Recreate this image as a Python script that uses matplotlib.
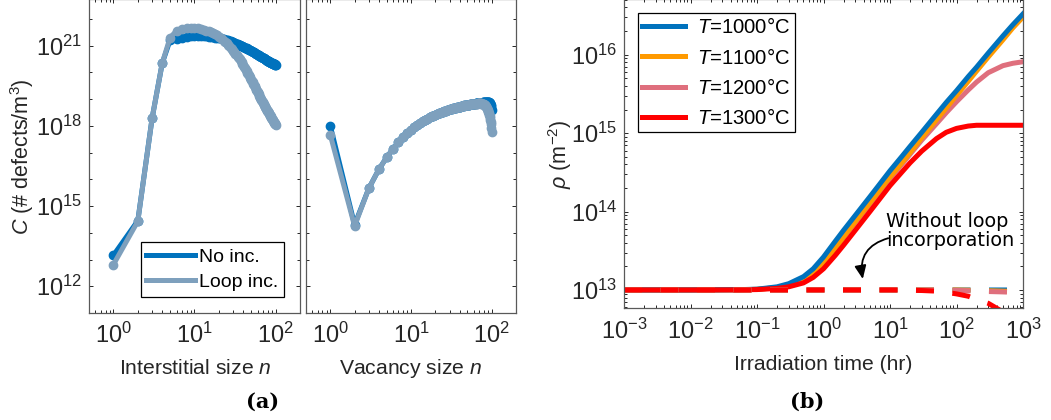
import matplotlib
matplotlib.use('Agg')
import matplotlib.pyplot as plt
import numpy as np
from matplotlib.ticker import LogLocator, NullFormatter

plt.rcParams['font.family'] = ['Liberation Sans', 'DejaVu Sans']
plt.rcParams['mathtext.fontset'] = 'custom'
plt.rcParams['mathtext.rm'] = 'Liberation Sans'
plt.rcParams['mathtext.it'] = 'Liberation Sans:italic'
plt.rcParams['mathtext.bf'] = 'Liberation Sans:bold'

# (a) cluster size distributions, log10 of C (# defects/m^3), for n = 1..100
SIZES = np.arange(1, 101)
INTER_NOINC = [13.16, 14.45, 18.28, 20.34, 21.20, 21.25, 21.29, 21.32, 21.34, 21.35,
               21.35, 21.35, 21.35, 21.34, 21.33, 21.32, 21.31, 21.30, 21.29, 21.28,
               21.27, 21.25, 21.24, 21.22, 21.21, 21.19, 21.18, 21.16, 21.14, 21.12,
               21.10, 21.08, 21.06, 21.04, 21.03, 21.01, 21.00, 20.98, 20.97, 20.95,
               20.94, 20.92, 20.91, 20.89, 20.88, 20.86, 20.85, 20.83, 20.82, 20.80,
               20.79, 20.77, 20.76, 20.74, 20.73, 20.72, 20.70, 20.69, 20.67, 20.66,
               20.65, 20.64, 20.62, 20.61, 20.60, 20.59, 20.57, 20.56, 20.55, 20.54,
               20.53, 20.52, 20.50, 20.49, 20.48, 20.47, 20.46, 20.45, 20.44, 20.43,
               20.42, 20.41, 20.40, 20.39, 20.38, 20.37, 20.36, 20.35, 20.35, 20.34,
               20.33, 20.33, 20.32, 20.31, 20.31, 20.30, 20.30, 20.29, 20.29, 20.28]
INTER_LOOP = [12.81, 14.43, 18.28, 20.34, 21.30, 21.55, 21.62, 21.65, 21.66, 21.66,
              21.64, 21.62, 21.59, 21.56, 21.53, 21.50, 21.46, 21.42, 21.38, 21.33,
              21.28, 21.23, 21.18, 21.13, 21.08, 21.03, 20.98, 20.92, 20.87, 20.81,
              20.76, 20.70, 20.65, 20.59, 20.54, 20.48, 20.43, 20.37, 20.32, 20.26,
              20.21, 20.15, 20.10, 20.04, 19.99, 19.93, 19.88, 19.82, 19.77, 19.71,
              19.66, 19.62, 19.57, 19.53, 19.48, 19.44, 19.39, 19.35, 19.30, 19.26,
              19.22, 19.18, 19.13, 19.09, 19.05, 19.01, 18.97, 18.93, 18.90, 18.86,
              18.82, 18.79, 18.75, 18.72, 18.69, 18.66, 18.63, 18.60, 18.57, 18.54,
              18.51, 18.48, 18.46, 18.43, 18.40, 18.37, 18.35, 18.32, 18.30, 18.27,
              18.25, 18.22, 18.20, 18.17, 18.15, 18.12, 18.10, 18.08, 18.05, 18.03]
VAC_NOINC = [18.00, 14.30, 15.66, 16.37, 16.82, 17.14, 17.38, 17.57, 17.72, 17.85,
             17.95, 18.04, 18.11, 18.17, 18.22, 18.27, 18.31, 18.35, 18.38, 18.41,
             18.44, 18.46, 18.49, 18.51, 18.53, 18.55, 18.57, 18.58, 18.60, 18.61,
             18.63, 18.64, 18.65, 18.66, 18.67, 18.68, 18.69, 18.70, 18.71, 18.72,
             18.72, 18.73, 18.74, 18.75, 18.75, 18.76, 18.76, 18.77, 18.77, 18.78,
             18.78, 18.79, 18.79, 18.80, 18.80, 18.81, 18.81, 18.82, 18.82, 18.83,
             18.83, 18.83, 18.84, 18.84, 18.84, 18.85, 18.85, 18.85, 18.85, 18.86,
             18.86, 18.86, 18.86, 18.87, 18.87, 18.87, 18.87, 18.88, 18.88, 18.88,
             18.88, 18.88, 18.89, 18.89, 18.89, 18.89, 18.90, 18.90, 18.90, 18.90,
             18.90, 18.89, 18.88, 18.87, 18.85, 18.82, 18.78, 18.74, 18.68, 18.60]
VAC_LOOP = [17.66, 14.25, 15.66, 16.37, 16.82, 17.14, 17.38, 17.57, 17.72, 17.85,
            17.95, 18.04, 18.11, 18.17, 18.22, 18.27, 18.31, 18.35, 18.38, 18.41,
            18.44, 18.46, 18.49, 18.51, 18.53, 18.55, 18.57, 18.58, 18.60, 18.61,
            18.63, 18.64, 18.65, 18.66, 18.67, 18.68, 18.69, 18.70, 18.71, 18.72,
            18.72, 18.73, 18.74, 18.75, 18.75, 18.76, 18.76, 18.77, 18.77, 18.78,
            18.78, 18.79, 18.79, 18.80, 18.80, 18.80, 18.81, 18.81, 18.82, 18.82,
            18.82, 18.82, 18.83, 18.83, 18.83, 18.83, 18.84, 18.84, 18.84, 18.84,
            18.84, 18.84, 18.84, 18.83, 18.83, 18.83, 18.82, 18.82, 18.81, 18.80,
            18.79, 18.78, 18.76, 18.74, 18.72, 18.69, 18.66, 18.63, 18.59, 18.55,
            18.51, 18.46, 18.41, 18.36, 18.30, 18.23, 18.15, 18.05, 17.93, 17.78]

# (b) dislocation density vs irradiation time, log10 of rho (m^-2)
TIMES = [1e-3, 1e-2, 0.05, 0.1, 0.2, 0.3, 0.5, 0.7, 1, 1.5, 2, 3, 5, 7, 10,
         15, 20, 30, 50, 70, 100, 150, 200, 300, 500, 700, 1000]
TEMPS = ['1000', '1100', '1200', '1300']
RHO_1000 = [13.0, 13.0, 13.003, 13.01, 13.04, 13.08, 13.17, 13.27, 13.42, 13.62, 13.76,
            13.95, 14.19, 14.35, 14.52, 14.70, 14.83, 15.01, 15.24, 15.39, 15.54,
            15.72, 15.84, 16.02, 16.24, 16.38, 16.52]
RHO_1100 = [13.0, 13.0, 13.002, 13.008, 13.03, 13.06, 13.13, 13.21, 13.34, 13.53, 13.67,
            13.87, 14.11, 14.27, 14.44, 14.62, 14.75, 14.94, 15.17, 15.32, 15.48,
            15.66, 15.79, 15.97, 16.19, 16.34, 16.48]
RHO_1200 = [13.0, 13.0, 13.002, 13.008, 13.03, 13.06, 13.13, 13.21, 13.34, 13.53, 13.67,
            13.86, 14.09, 14.25, 14.42, 14.60, 14.73, 14.91, 15.12, 15.26, 15.40,
            15.55, 15.65, 15.77, 15.86, 15.89, 15.91]
RHO_1300 = [13.0, 13.0, 13.001, 13.005, 13.02, 13.04, 13.09, 13.16, 13.27, 13.44, 13.57,
            13.76, 14.00, 14.16, 14.33, 14.50, 14.62, 14.77, 14.93, 15.01, 15.06,
            15.09, 15.10, 15.10, 15.10, 15.10, 15.10]
# without loop incorporation (dashed)
NOLOOP_1000 = [13.0, 13.0, 13.0, 13.0, 13.0, 13.0, 13.0, 13.0, 13.0, 13.0, 13.0,
               13.0, 13.0, 13.0, 13.0, 13.0, 13.0, 13.0, 13.0, 13.0, 13.0,
               13.0, 13.0, 13.0, 13.0, 13.0, 12.998]
NOLOOP_1100 = [13.0, 13.0, 13.0, 13.0, 13.0, 13.0, 13.0, 13.0, 13.0, 13.0, 13.0,
               13.0, 13.0, 13.0, 13.0, 13.0, 13.0, 13.0, 13.0, 13.0, 13.0,
               12.997, 12.995, 12.99, 12.985, 12.98, 12.98]
NOLOOP_1200 = [13.0, 13.0, 13.0, 13.0, 13.0, 13.0, 13.0, 13.0, 13.0, 13.0, 13.0,
               13.0, 13.0, 13.0, 13.0, 13.0, 13.0, 13.0, 13.0, 12.998, 12.995,
               12.99, 12.985, 12.98, 12.975, 12.97, 12.97]
NOLOOP_1300 = [13.0, 13.0, 13.0, 13.0, 13.0, 13.0, 13.0, 13.0, 13.0, 13.0, 13.0,
               13.0, 13.0, 13.0, 13.0, 12.999, 12.997, 12.993, 12.985, 12.97, 12.95,
               12.92, 12.88, 12.83, 12.72, 12.62, 12.45]

BLUE = '#0072BD'
GRAY = '#7EA0BD'
COLORS = ['#0072BD', '#FF9A00', '#DF6F7D', '#FF0000']
AXC = '#262626'

W, H = 1051, 420
fig = plt.figure(figsize=(W / 100, H / 100), dpi=100)


def px_axes(left, right, bottom, top=-1):
    return fig.add_axes([left / W, 1 - bottom / H, (right - left) / W, (bottom - top) / H])


def style(ax):
    for s in ax.spines.values():
        s.set_color('0.35')
        s.set_linewidth(0.9)
    ax.tick_params(which='both', direction='in', top=True, right=True,
                   color=AXC, labelcolor=AXC, width=0.7)
    ax.tick_params(which='major', length=3.2, labelsize=17)
    ax.tick_params(which='minor', length=2.0)


ax1 = px_axes(89, 300, 313)
ax2 = px_axes(306, 516, 313)
ax3 = px_axes(624, 1023, 308)

for ax, noinc, loop in [(ax1, INTER_NOINC, INTER_LOOP), (ax2, VAC_NOINC, VAC_LOOP)]:
    ax.plot(SIZES, 10 ** np.array(noinc), '-o', color=BLUE, lw=3.6, ms=6, label='No inc.')
    ax.plot(SIZES, 10 ** np.array(loop), '-o', color=GRAY, lw=3.6, ms=6, label='Loop inc.')
    ax.set_xscale('log')
    ax.set_yscale('log')
    ax.set_xlim(0.5, 200)
    ax.set_ylim(1e11, 10 ** 22.74)
    ax.set_yticks([1e12, 1e15, 1e18, 1e21])
    ax.yaxis.set_minor_locator(LogLocator(base=10, subs=[1.0], numticks=30))
    ax.yaxis.set_minor_formatter(NullFormatter())
    ax.xaxis.set_minor_locator(LogLocator(base=10, subs=np.arange(2, 10), numticks=30))
    ax.xaxis.set_minor_formatter(NullFormatter())
    style(ax)
    ax.tick_params(axis='x', which='major', pad=7)
    ax.tick_params(axis='y', which='major', pad=5)
ax2.tick_params(labelleft=False)

leg = ax1.legend(loc='lower right', bbox_to_anchor=(0.924, 0.051), borderaxespad=0,
                 fontsize=14, handlelength=2.5, handletextpad=0.2, labelspacing=0.4,
                 borderpad=0.3, fancybox=False, framealpha=1, edgecolor='black')
leg.get_frame().set_linewidth(0.9)
for h in leg.legend_handles:
    h.set_marker('')

t = np.array(TIMES)
solid = dict(zip(TEMPS, [RHO_1000, RHO_1100, RHO_1200, RHO_1300]))
dashed = dict(zip(TEMPS, [NOLOOP_1000, NOLOOP_1100, NOLOOP_1200, NOLOOP_1300]))
colors = dict(zip(TEMPS, COLORS))
lines = {}
for temp in ['1200', '1100', '1000', '1300']:
    lines[temp], = ax3.plot(t, 10 ** np.array(solid[temp]), color=colors[temp], lw=3.6)
for temp in TEMPS:
    ax3.plot(t, 10 ** np.array(dashed[temp]), color=colors[temp], lw=3.6,
             linestyle=(0, (3.6, 3.7)))
ax3.set_xscale('log')
ax3.set_yscale('log')
ax3.set_xlim(1e-3, 1e3)
ax3.set_ylim(10 ** 12.77, 10 ** 16.71)
ax3.xaxis.set_major_locator(LogLocator(base=10, numticks=30))
ax3.yaxis.set_major_locator(LogLocator(base=10, numticks=30))
for axis in (ax3.xaxis, ax3.yaxis):
    axis.set_minor_locator(LogLocator(base=10, subs=np.arange(2, 10), numticks=30))
    axis.set_minor_formatter(NullFormatter())
style(ax3)
ax3.tick_params(axis='x', which='major', pad=8)
ax3.tick_params(axis='y', which='major', pad=5)

leg3 = ax3.legend([lines[k] for k in TEMPS], [r'$T$=' + k + '°C' for k in TEMPS],
                  loc='upper left', bbox_to_anchor=(0.035, 0.955), borderaxespad=0,
                  fontsize=14.6, handlelength=2.1, handletextpad=0.6, labelspacing=0.5,
                  borderpad=0.22, fancybox=False, framealpha=1, edgecolor='black')
leg3.get_frame().set_linewidth(0.9)

ax3.text(8.6, 10 ** 14.0, 'Without loop\nincorporation', ha='left', va='top',
         fontsize=13.9, family='DejaVu Sans', linespacing=1.0)
ax3.annotate('', xy=(3.9, 10 ** 13.14), xytext=(9.4, 10 ** 13.66),
             arrowprops=dict(arrowstyle='-|>,head_length=0.8,head_width=0.35',
                             connectionstyle='arc3,rad=0.45', color='black', lw=1.3,
                             shrinkA=0, shrinkB=0))

# labels placed at pixel positions
def ftext(x, y, s, **kw):
    fig.text(x / W, 1 - y / H, s, ha='center', va='center', color=AXC, **kw)


ftext(195, 368, r'Interstitial size $n$', fontsize=15.2)
ftext(411, 368, r'Vacancy size $n$', fontsize=15.2)
ftext(22, 157, r'$C$ (# defects/m$^3$)', fontsize=15.5, rotation=90)
ftext(823, 365, 'Irradiation time (hr)', fontsize=15.2)
ftext(560, 154, r'$\rho$ (m$^{-2}$)', fontsize=15.5, rotation=90)
fig.text(263 / W, 1 - 402 / H, '(a)', ha='center', va='center', fontsize=15,
         family='DejaVu Serif', weight='bold', color='black')
fig.text(807 / W, 1 - 402 / H, '(b)', ha='center', va='center', fontsize=15,
         family='DejaVu Serif', weight='bold', color='black')

fig.savefig('out.png', dpi=100)
